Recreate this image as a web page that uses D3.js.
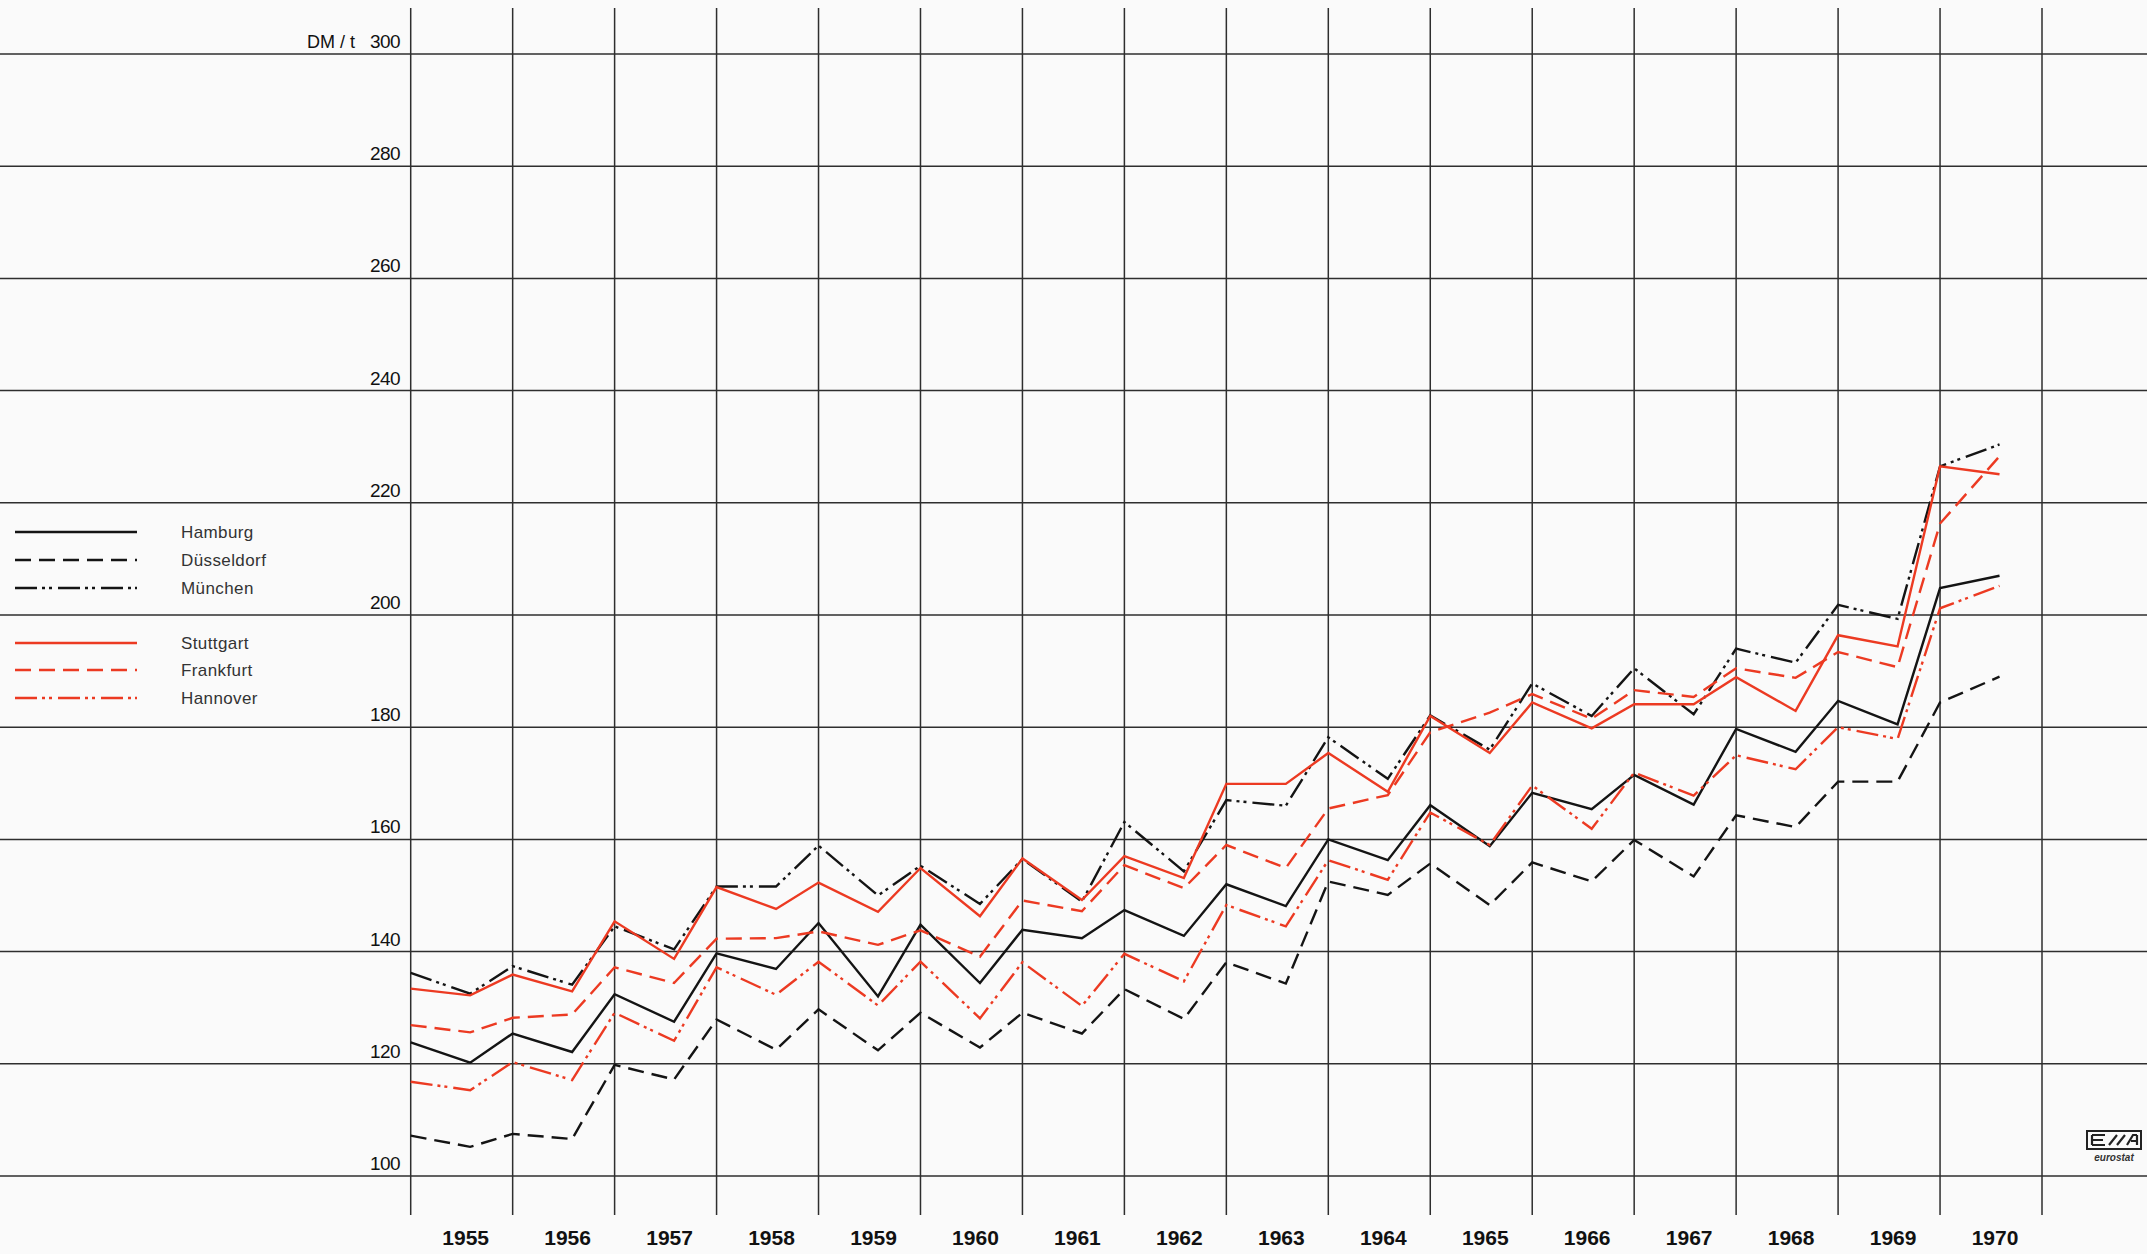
<!DOCTYPE html>
<html><head><meta charset="utf-8">
<script src="https://cdn.jsdelivr.net/npm/d3@7"></script>
<style>
html,body{margin:0;padding:0;background:#fafafa;}
svg{display:block;}
</style></head><body>
<svg id="chart" width="2147" height="1254"></svg>
<script>
// ---- data ----
const years = [1955,1956,1957,1958,1959,1960,1961,1962,1963,1964,1965,1966,1967,1968,1969,1970];
const yTicks = [100,120,140,160,180,200,220,240,260,280,300];
const yUnit = "DM / t";
const cities = ["Hamburg","Düsseldorf","München","Stuttgart","Frankfurt","Hannover"];
// two observations per year (beginning of year, then late summer)
const hamburg    = [123.8,120.2, 125.4,122.1, 132.4,127.5, 139.7,136.9, 145.1,132.0, 144.8,134.4, 143.9,142.4, 147.4,142.8, 152.0,148.1, 160.0,156.3, 166.1,158.8, 168.3,165.4, 171.5,166.2, 179.7,175.6, 184.7,180.5, 204.8,207.0];
const dusseldorf = [107.2,105.2, 107.5,106.6, 119.8,117.2, 127.9,122.5, 129.7,122.4, 129.1,122.9, 129.1,125.4, 133.3,128.0, 138.1,134.3, 152.5,150.1, 155.7,148.3, 155.9,152.5, 159.9,153.4, 164.3,162.2, 170.3,170.3, 184.4,189.0];
const munchen    = [136.2,132.5, 137.4,134.1, 144.5,140.4, 151.6,151.6, 158.9,150.0, 155.3,148.5, 156.5,148.9, 163.1,154.3, 167.0,166.0, 178.2,170.8, 182.1,176.0, 187.8,182.0, 190.5,182.3, 194.0,191.5, 201.8,199.3, 226.5,230.4];
const stuttgart  = [133.4,132.2, 135.9,132.9, 145.4,138.7, 151.5,147.6, 152.3,147.1, 154.9,146.3, 156.6,149.2, 157.0,153.1, 169.9,169.9, 175.4,168.5, 182.0,175.4, 184.4,179.8, 184.1,184.1, 188.9,182.9, 196.4,194.4, 226.5,225.1];
const frankfurt  = [126.9,125.6, 128.2,128.8, 137.2,134.4, 142.3,142.4, 143.6,141.2, 143.8,139.1, 149.1,147.2, 155.4,151.3, 159.0,154.9, 165.5,167.9, 179.1,182.6, 185.9,181.5, 186.6,185.4, 190.5,188.8, 193.4,190.7, 216.3,228.3];
const hannover   = [116.8,115.3, 120.3,117.1, 129.1,124.1, 137.2,132.3, 138.2,130.4, 138.2,128.1, 138.1,130.3, 139.6,134.7, 148.3,144.5, 156.3,152.8, 164.8,159.0, 169.6,161.9, 171.9,167.8, 175.0,172.5, 180.0,177.9, 201.2,205.2];
const seriesValues = [hamburg, dusseldorf, munchen, stuttgart, frankfurt, hannover];

// ---- styles (kept apart from data) ----
const BLACK = "#141414", RED = "#ec3a22";
const styles = [
  {color: BLACK, dash: null},
  {color: BLACK, dash: "16,8"},
  {color: BLACK, dash: "22,5,3,4,3,6"},
  {color: RED,   dash: null},
  {color: RED,   dash: "16,8"},
  {color: RED,   dash: "22,5,3,4,3,6"}
];

const W = 2147, H = 1254;
const svg = d3.select("#chart");
svg.append("rect").attr("width", W).attr("height", H).attr("fill", "#fafafa");

const x = d3.scaleLinear().domain([1955, 1971]).range([410.7, 2042]);
const y = d3.scaleLinear().domain([100, 300]).range([1176, 54]);
const offset = 7/12;
const times = years.flatMap(yr => [yr, yr + offset]);

const grid = svg.append("g").attr("stroke", "#2e2e2e").attr("stroke-width", 1.5);
// horizontal grid
grid.selectAll("line.h").data(yTicks).join("line")
  .attr("class","h").attr("x1", 0).attr("x2", W)
  .attr("y1", d => y(d)).attr("y2", d => y(d));
// vertical grid (year boundaries)
const bounds = years.concat([years[years.length-1] + 1]);
grid.selectAll("line.v").data(bounds).join("line")
  .attr("class","v").attr("y1", 8).attr("y2", 1215)
  .attr("x1", d => x(d)).attr("x2", d => x(d));

// y labels
svg.append("g").selectAll("text").data(yTicks).join("text")
  .attr("x", 400).attr("y", d => y(d) - 6)
  .attr("text-anchor", "end")
  .attr("font-family", "'Liberation Sans', Arial, sans-serif")
  .attr("font-size", 19).attr("letter-spacing", -0.6)
  .attr("fill", "#111")
  .text(d => d);
svg.append("text").attr("x", 355).attr("y", y(300) - 6)
  .attr("text-anchor", "end")
  .attr("font-family", "'Liberation Sans', Arial, sans-serif")
  .attr("font-size", 18).attr("fill", "#111")
  .text(yUnit);

// x labels
svg.append("g").selectAll("text").data(years).join("text")
  .attr("x", d => x(d + 0.5) + 4).attr("y", 1245)
  .attr("text-anchor", "middle")
  .attr("font-family", "'Liberation Sans', Arial, sans-serif")
  .attr("font-weight", "bold").attr("font-size", 21)
  .attr("fill", "#111")
  .text(d => d);

// lines
const line = d3.line().x((d, i) => x(times[i])).y(d => y(d));
svg.append("g").selectAll("path").data(seriesValues).join("path")
  .attr("d", d => line(d))
  .attr("fill", "none")
  .attr("stroke", (d, i) => styles[i].color)
  .attr("stroke-width", 2.4)
  .attr("stroke-dasharray", (d, i) => styles[i].dash)
  .attr("stroke-linejoin", "miter");

// legend
const legendY = [532, 560, 588, 643, 670, 698];
const leg = svg.append("g").selectAll("g").data(cities).join("g");
leg.append("line")
  .attr("x1", 15).attr("x2", 137)
  .attr("y1", (d, i) => legendY[i]).attr("y2", (d, i) => legendY[i])
  .attr("stroke", (d, i) => styles[i].color)
  .attr("stroke-width", 2.4)
  .attr("stroke-dasharray", (d, i) => styles[i].dash);
leg.append("text")
  .attr("x", 181).attr("y", (d, i) => legendY[i] + 6)
  .attr("font-family", "'Liberation Sans', Arial, sans-serif")
  .attr("font-size", 17).attr("letter-spacing", 0.4)
  .attr("fill", "#333")
  .text(d => d);

// eurostat logo
const logo = svg.append("g").attr("transform", "translate(2087,1131)");
logo.append("rect").attr("x", 0).attr("y", 0).attr("width", 54).attr("height", 18)
  .attr("fill", "none").attr("stroke", "#222").attr("stroke-width", 2);
logo.append("path")
  .attr("d", "M5,4 H18 M5,9 H16 M5,14 H18 M5,4 V14 M22,14 L30,4 M30,14 L38,4 M40,14 L46,4 H50 M44,10 H50 M50,4 V14")
  .attr("fill", "none").attr("stroke", "#222").attr("stroke-width", 2.2);
logo.append("text").attr("x", 27).attr("y", 30).attr("text-anchor", "middle")
  .attr("font-family", "'Liberation Sans', Arial, sans-serif")
  .attr("font-size", 10).attr("font-weight", "bold").attr("font-style", "italic")
  .attr("fill", "#333").text("eurostat");
</script>
</body></html>
